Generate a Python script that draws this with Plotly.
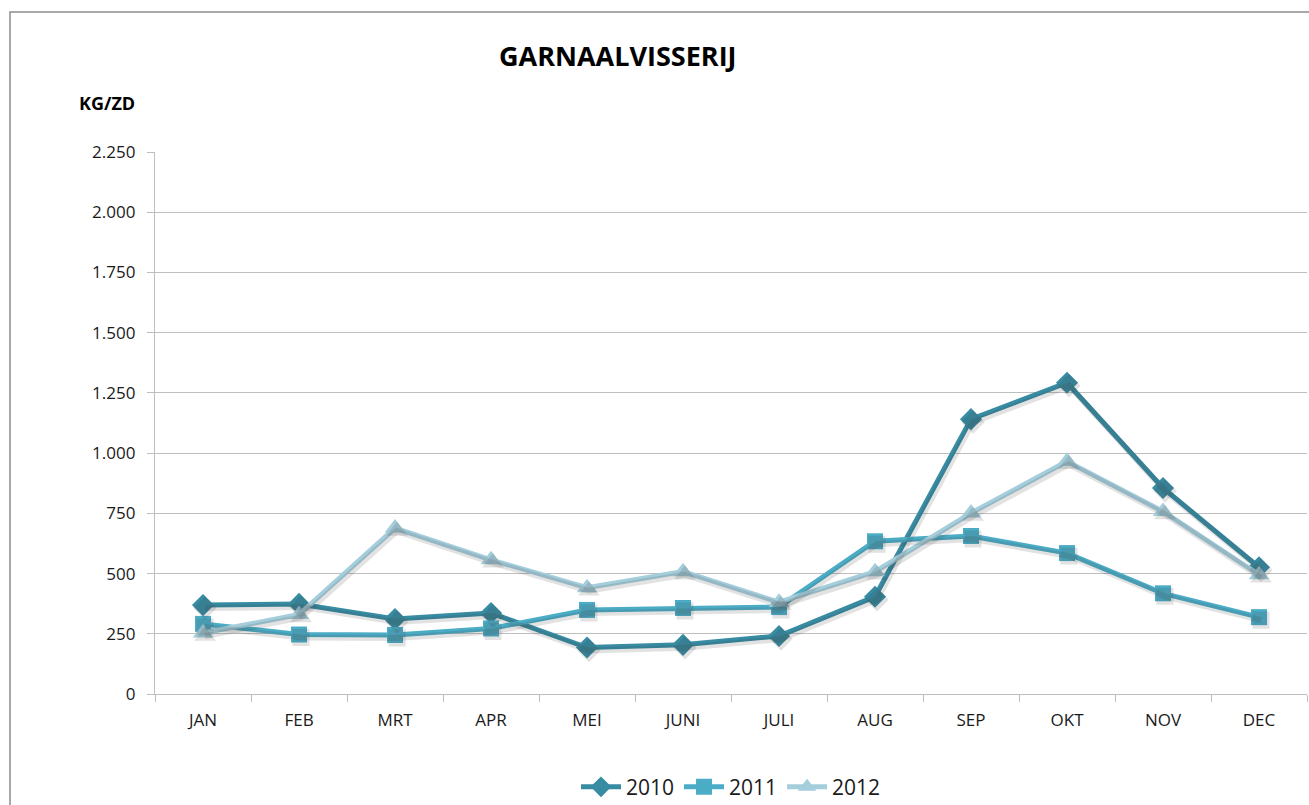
import plotly.graph_objects as go

# Monthly catch per sea day (kg/zd) for the shrimp fishery
months = ["JAN", "FEB", "MRT", "APR", "MEI", "JUNI", "JULI", "AUG", "SEP", "OKT", "NOV", "DEC"]
kg_2010 = [369, 374, 311, 336, 193, 204, 241, 404, 1141, 1292, 855, 526]
kg_2011 = [291, 247, 245, 272, 349, 357, 361, 634, 656, 585, 418, 319]
kg_2012 = [253, 330, 689, 557, 441, 508, 381, 508, 751, 966, 758, 495]
y_ticks = [0, 250, 500, 750, 1000, 1250, 1500, 1750, 2000, 2250]

series = [
    ("2010", kg_2010, "#378BA2", "diamond", 17),
    ("2011", kg_2011, "#4BACC6", "square", 16),
    ("2012", kg_2012, "#A5CEDC", "triangle-up", 18),
]

FONT = "Open Sans"
fig = go.Figure()

# soft drop shadow drawn on a slightly shifted overlay axis pair
for name, vals, color, symbol, size in series:
    fig.add_trace(go.Scatter(
        x=months, y=vals, mode="lines+markers", xaxis="x2", yaxis="y2",
        line=dict(color="rgba(60,60,60,0.15)", width=6),
        marker=dict(symbol=symbol, size=size + 1, color="rgba(60,60,60,0.15)"),
        showlegend=False, hoverinfo="skip",
    ))

for name, vals, color, symbol, size in series:
    fig.add_trace(go.Scatter(
        x=months, y=vals, name=name, mode="lines+markers",
        line=dict(color=color, width=5),
        marker=dict(symbol=symbol, size=size, color=color),
    ))

W, H = 1309, 805
ml, mr, mt, mb = 155, 2, 152, 111
pw, ph = W - ml - mr, H - mt - mb
dx_px, dy_px = 2, 3
x_shift = dx_px / (pw / 12)
y_shift = dy_px / (ph / 2250)

grid = "#BEBEBE"
fig.update_layout(
    width=W, height=H,
    margin=dict(l=ml, r=mr, t=mt, b=mb, autoexpand=False),
    paper_bgcolor="white", plot_bgcolor="white",
    separators=",.",
    font=dict(family=FONT, color="#1a1a1a"),
    xaxis=dict(
        type="category", categoryorder="array", categoryarray=months,
        range=[-0.5, 11.5], showgrid=False, automargin=False,
        showline=True, linecolor=grid, linewidth=1.3,
        ticks="outside", tickson="boundaries", ticklen=7, tickcolor=grid, tickwidth=1.3,
        ticklabelstandoff=10,
        tickfont=dict(size=17, family=FONT, color="#1a1a1a"), fixedrange=True,
    ),
    yaxis=dict(
        range=[0, 2250], tickvals=y_ticks, tickformat=",d", automargin=False,
        showgrid=True, gridcolor=grid, gridwidth=1.3, zeroline=False,
        showline=True, linecolor=grid, linewidth=1.3,
        ticks="outside", ticklen=7, tickcolor=grid, tickwidth=1.3,
        ticklabelstandoff=8,
        tickfont=dict(size=17, family=FONT, color="#1a1a1a"), fixedrange=True,
    ),
    xaxis2=dict(
        type="category", categoryorder="array", categoryarray=months,
        range=[-0.5 - x_shift, 11.5 - x_shift], overlaying="x", visible=False,
    ),
    yaxis2=dict(range=[0 + y_shift, 2250 + y_shift], overlaying="y", visible=False),
    legend=dict(
        orientation="h", x=0.5, xanchor="center", y=-0.172, yanchor="middle",
        font=dict(size=21, family=FONT, color="#1a1a1a"),
        itemwidth=40, traceorder="normal",
    ),
    annotations=[
        dict(text="<b>GARNAALVISSERIJ</b>", xref="paper", yref="paper",
             x=(618 - ml) / pw, y=(H - mb - 55) / ph, xanchor="center", yanchor="middle",
             showarrow=False, font=dict(size=27, family=FONT, color="#000000")),
        dict(text="<b>KG/ZD</b>", xref="paper", yref="paper",
             x=(137 - ml) / pw, y=(H - mb - 103) / ph, xanchor="right", yanchor="middle",
             showarrow=False, font=dict(size=18, family=FONT, color="#000000")),
    ],
    shapes=[
        dict(type="rect", xref="paper", yref="paper",
             x0=(10 - ml) / pw, x1=(W + 20 - ml) / pw,
             y0=(H - mb - (H + 20)) / ph, y1=(H - mb - 12) / ph,
             line=dict(color="#8c8c8c", width=1.5), fillcolor="rgba(0,0,0,0)", layer="below"),
    ],
)

fig.write_html("out.html")
